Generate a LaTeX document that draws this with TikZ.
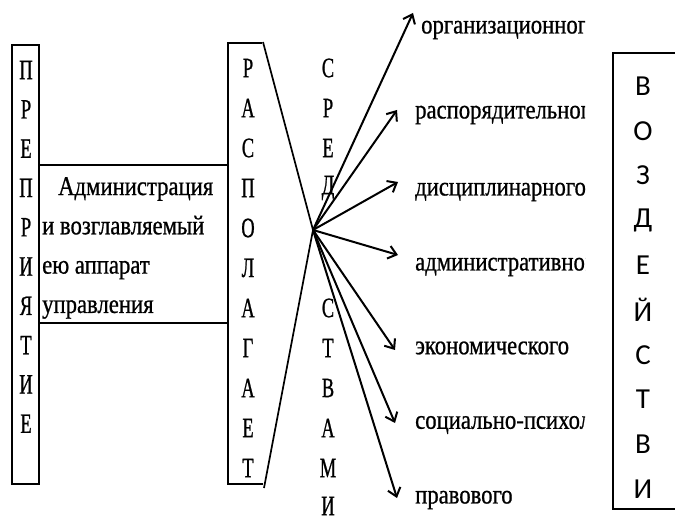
\documentclass[tikz,border=0pt]{standalone}
\usepackage{fontspec}
\setmainfont{Liberation Serif}
\newfontfamily\condfont[FakeStretch=0.84,FakeBold=0.8]{Liberation Serif}
\newfontfamily\capfont[FakeStretch=0.66,FakeBold=0.8]{Liberation Serif}
\newfontfamily\sansfont{Carlito}
\usetikzlibrary{arrows.meta}
\begin{document}
\begin{tikzpicture}[x=1pt,y=-1pt,
  boxline/.style={line width=1.7pt},
  capletter/.style={inner sep=0pt,font=\capfont\fontsize{28}{30}\selectfont},
  sansletter/.style={inner sep=0pt,font=\sansfont\fontsize{29}{30}\selectfont},
  lbl/.style={anchor=west,inner sep=0pt,font=\condfont\fontsize{27}{30}\selectfont},
  arr/.style={line width=2pt,-{Straight Barb[length=8pt,width=13pt,line width=2pt]}}]
\useasboundingbox (0,0) rectangle (675,521);
% left box: ПРЕДПРИЯТИЕ
\draw[boxline] (12,45) rectangle (39,484);
\foreach \l [count=\i] in {П,Р,Е,П,Р,И,Я,Т,И,Е}
  \node[capletter] (pr\i) at (26,{70+39.3*(\i-1)}) {\l};
% middle band
\draw[boxline] (39,165) -- (228,165);
\draw[boxline] (39,323) -- (228,323);
\node[anchor=north west,inner sep=0pt,align=left,
      font=\condfont\fontsize{27}{39.3}\selectfont] (adm) at (42,177)
  {\hspace*{16pt}Администрация\\и возглавляемый\\ею аппарат\\управления};
% РАСПОЛАГАЕТ box with wedge
\draw[boxline] (262,43) -- (228,43) -- (228,484) -- (263,484);
\coordinate (V) at (313,230);
\coordinate (wa) at (263,42);
\coordinate (wb) at (264,488);
\draw[boxline] (wa) -- (V) -- (wb);
\foreach \l [count=\i] in {Р,А,С,П,О,Л,А,Г,А,Е,Т}
  \node[capletter] (ra\i) at (248,{68+40*(\i-1)}) {\l};
% СРЕДСТВАМИ
\foreach \l/\r [count=\i] in {С/0,Р/1,Е/2,Д/3,С/6,Т/7,В/8,А/9,М/10}
  \node[capletter] (sr\i) at (328,{68+40*\r}) {\l};
\node[capletter] (sr10) at (328,506) {И};
% labels (clipped at the right)
\begin{scope}
\clip (400,0) rectangle (585,521);
\node[lbl] (l1) at (421,30) {организационного};
\node[lbl] (l2) at (415,115) {распорядительного};
\node[lbl] (l3) at (415,192) {дисциплинарного};
\node[lbl] (l4) at (415,267) {административного};
\node[lbl] (l5) at (415,348) {экономического};
\node[lbl] (l6) at (415,425) {социально-психологического};
\node[lbl] (l7) at (415,500) {правового};
\end{scope}
% arrows
\coordinate (t1) at (413,13);
\coordinate (t2) at (397,110);
\coordinate (t3) at (398,182);
\coordinate (t4) at (398,255);
\coordinate (t5) at (395,350);
\coordinate (t6) at (395,423);
\coordinate (t7) at (397,498);
\foreach \k in {1,...,7} \draw[arr] (V) -- (t\k);
% right box: ВОЗДЕЙСТВИ
\draw[boxline] (676,53) -- (613,53) -- (613,509) -- (676,509);
\foreach \l [count=\i] in {В,О,З,Д,Е,Й,С,Т,В,И}
  \node[sansletter] (vo\i) at (643,{86+44.8*(\i-1)}) {\l};
\end{tikzpicture}
\end{document}
